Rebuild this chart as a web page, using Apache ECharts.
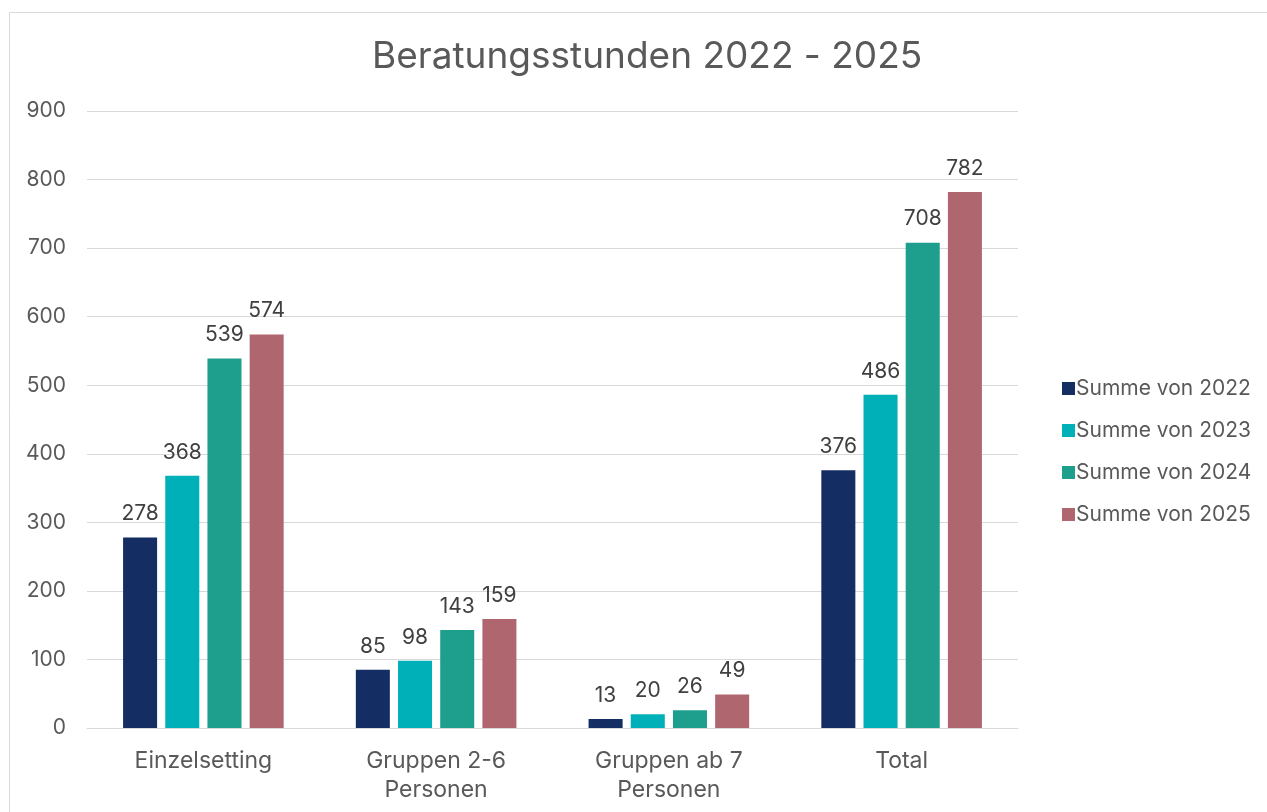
<!DOCTYPE html>
<html>
<head>
<meta charset="utf-8">
<script src="https://cdn.jsdelivr.net/npm/echarts@6/dist/echarts.min.js"></script>
<style>
  html, body { margin: 0; padding: 0; background: #fff; }
  #chart { width: 1267px; height: 812px; }
</style>
</head>
<body>
<div id="chart"></div>
<script>
var categories = ['Einzelsetting', 'Gruppen 2-6\nPersonen', 'Gruppen ab 7\nPersonen', 'Total'];
var seriesNames = ['Summe von 2022', 'Summe von 2023', 'Summe von 2024', 'Summe von 2025'];
var values2022 = [278, 85, 13, 376];
var values2023 = [368, 98, 20, 486];
var values2024 = [539, 143, 26, 708];
var values2025 = [574, 159, 49, 782];
var colors = ['#142d63', '#00b0b9', '#1e9e8c', '#b0666e'];

var chart = echarts.init(document.getElementById('chart'));

var allValues = [values2022, values2023, values2024, values2025];
var series = allValues.map(function (vals, i) {
    return {
        name: seriesNames[i],
        type: 'bar',
        data: vals,
        barGap: '24%',
        barCategoryGap: '31%',
        itemStyle: { color: colors[i] },
        label: {
            show: true,
            position: 'top',
            distance: 13,
            color: '#404040',
            fontSize: 21,
            fontFamily: 'Inter'
        }
    };
});

var option = {
    animation: false,
    textStyle: { fontFamily: 'Inter' },
    graphic: [{
        type: 'rect',
        shape: { x: 9.5, y: 12.5, width: 1270, height: 820 },
        style: { fill: 'none', stroke: '#d9d9d9', lineWidth: 1 }
    }],
    title: {
        text: 'Beratungsstunden 2022 - 2025',
        left: 367,
        top: 33,
        textStyle: { fontSize: 37, fontWeight: 'normal', color: '#595959', fontFamily: 'Inter' }
    },
    legend: {
        orient: 'vertical',
        left: 1057,
        top: 373,
        itemWidth: 13,
        itemHeight: 13,
        itemGap: 21,
        icon: 'rect',
        textStyle: { fontSize: 21, color: '#595959', fontFamily: 'Inter', padding: [0, 0, 0, -4] },
        data: seriesNames
    },
    grid: { left: 87, right: 249, top: 111, bottom: 84 },
    xAxis: {
        type: 'category',
        data: categories,
        axisTick: { show: false },
        axisLine: { lineStyle: { color: '#d9d9d9', width: 1 } },
        axisLabel: { fontSize: 23, color: '#595959', margin: 19, lineHeight: 29, fontFamily: 'Inter' }
    },
    yAxis: {
        type: 'value',
        min: 0,
        max: 900,
        interval: 100,
        axisLine: { show: false },
        axisTick: { show: false },
        axisLabel: { fontSize: 21, color: '#595959', margin: 21, fontFamily: 'Inter' },
        splitLine: { lineStyle: { color: '#d9d9d9', width: 1 } }
    },
    series: series
};

chart.setOption(option);
</script>
</body>
</html>
